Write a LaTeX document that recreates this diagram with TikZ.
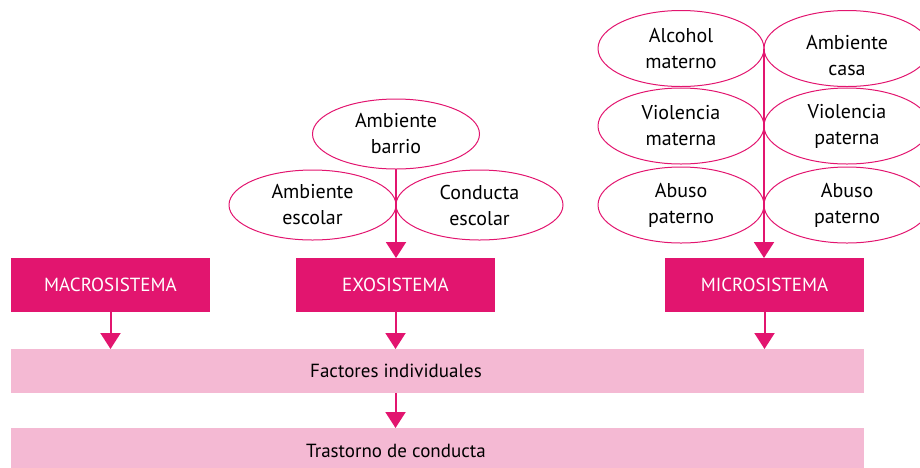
\documentclass[tikz,border=0pt]{standalone}
\usepackage{xcolor}
\usepackage{fontspec}
\setmainfont{PT Sans}
\usetikzlibrary{shapes.geometric,arrows.meta}
\definecolor{rosa}{HTML}{E2156F}
\definecolor{rosaclaro}{HTML}{F4B9D3}
\begin{document}
\begin{tikzpicture}[y=1pt, x=1pt, yscale=-1, inner sep=0pt, outer sep=0pt,
    font=\fontsize{19}{26}\selectfont,
    sistema/.style={fill=rosa, text=white, minimum width=199pt, minimum height=54pt},
    franja/.style={fill=rosaclaro, minimum width=853pt, minimum height=44pt},
    factor/.style={ellipse, draw=rosa, line width=1pt, align=center, font=\fontsize{20}{26}\selectfont,
      minimum width=166pt, minimum height=76pt},
    flecha/.style={draw=rosa, line width=2pt, -{Triangle[width=20pt,length=16pt]}}]
  \useasboundingbox (0,0) rectangle (920,467);
          \node[sistema] (macro) at (110.5,285) {MACROSISTEMA};
          \node[sistema] (exo) at (395.5,285) {EXOSISTEMA};
          \node[sistema] (micro) at (764.5,285) {MICROSISTEMA};
          \node[franja, label={[xshift=-41.5pt]center:Factores individuales}] (fact) at (437.5,371) {};
          \node[franja, label={[xshift=-41.5pt, yshift=-1pt]center:Trastorno de conducta}] (tras) at (437.5,450) {};
            \node[factor, minimum width=167pt, minimum height=70pt] (barrio) at (396,134) {Ambiente\\barrio};
            \node[factor, minimum width=167pt, minimum height=70pt] (escolar) at (312.5,205) {Ambiente\\escolar};
            \node[factor, minimum width=167pt, minimum height=70pt] (conducta) at (479.5,205) {Conducta\\escolar};
            \node[factor] (alcohol) at (681,48.5) {Alcohol\\materno};
            \node[factor, label={[align=center, font=\fontsize{20}{26}\selectfont, yshift=-7pt]center:Ambiente\\casa}] (casa) at (847,48.5) {};
            \node[factor] (vmaterna) at (681,126) {Violencia\\materna};
            \node[factor] (vpaterna) at (847,126) {Violencia\\paterna};
            \node[factor] (abusoa) at (681,205) {Abuso\\paterno};
            \node[factor] (abusob) at (847,205) {Abuso\\paterno};
          \draw[flecha] (barrio.south) -- (barrio.south |- exo.north);
          \draw[flecha] (alcohol.east) -- (alcohol.east |- micro.north);
          \draw[flecha] (macro.south) -- (macro.south |- fact.north);
          \draw[flecha] (exo.south) -- (exo.south |- fact.north);
          \draw[flecha] (micro.south) -- (micro.south |- fact.north);
          \draw[flecha] (exo.south |- fact.south) -- (exo.south |- tras.north);
        \end{tikzpicture}
\end{document}
